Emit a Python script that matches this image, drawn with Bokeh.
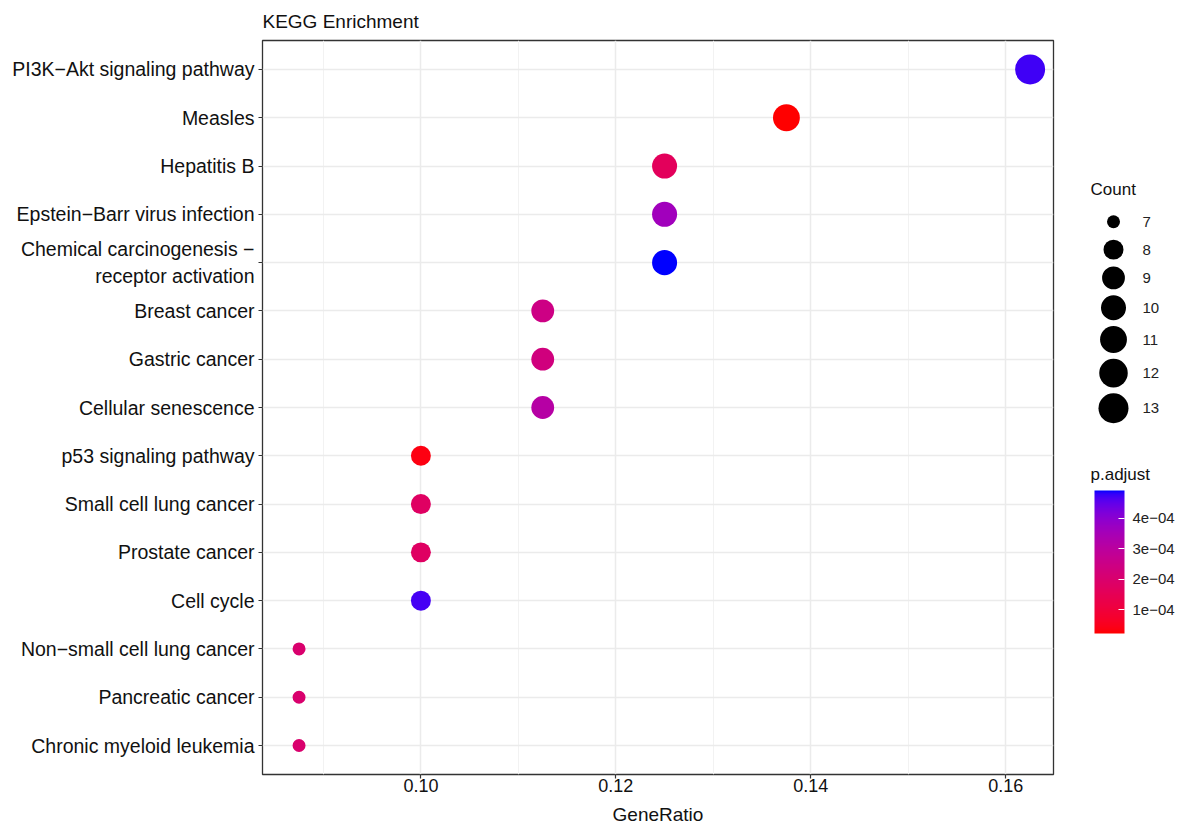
import numpy as np
from bokeh.plotting import figure
from bokeh.models import (ColumnDataSource, FactorRange, LinearColorMapper, ColorBar,
                          FixedTicker, NumeralTickFormatter, CustomJSTickFormatter, Range1d)
from bokeh.layouts import row
from bokeh.embed import file_html
from bokeh.resources import INLINE
from bokeh.core.properties import value

# ---------------- data ----------------
pathways = [
    "PI3K\u2212Akt signaling pathway",
    "Measles",
    "Hepatitis B",
    "Epstein\u2212Barr virus infection",
    "Chemical carcinogenesis \u2212\nreceptor activation",
    "Breast cancer",
    "Gastric cancer",
    "Cellular senescence",
    "p53 signaling pathway",
    "Small cell lung cancer",
    "Prostate cancer",
    "Cell cycle",
    "Non\u2212small cell lung cancer",
    "Pancreatic cancer",
    "Chronic myeloid leukemia",
]
gene_ratio = [0.1625, 0.1375, 0.125, 0.125, 0.125, 0.1125, 0.1125, 0.1125,
              0.100, 0.100, 0.100, 0.100, 0.0875, 0.0875, 0.0875]
count = [13, 11, 10, 10, 10, 9, 9, 9, 8, 8, 8, 8, 7, 7, 7]
p_adjust = [4.75e-4, 2.1e-5, 1.62e-4, 3.60e-4, 4.92e-4, 2.47e-4, 2.33e-4, 3.13e-4,
            3.5e-5, 1.76e-4, 1.76e-4, 4.70e-4, 2.0e-4, 2.0e-4, 2.0e-4]

x_ticks = [0.10, 0.12, 0.14, 0.16]
x_minor = [0.09, 0.11, 0.13, 0.15]
legend_counts = [7, 8, 9, 10, 11, 12, 13]
cb_ticks = [1e-4, 2e-4, 3e-4, 4e-4]

FONT = "Liberation Sans"

# ---------------- palette (Lab interpolation red -> blue, like ggplot) ----------------
def _srgb_to_lin(c):
    return np.where(c <= 0.04045, c / 12.92, ((c + 0.055) / 1.055) ** 2.4)

def _lin_to_srgb(c):
    c = np.clip(c, 0, 1)
    return np.where(c <= 0.0031308, 12.92 * c, 1.055 * c ** (1 / 2.4) - 0.055)

M = np.array([[0.4124564, 0.3575761, 0.1804375],
              [0.2126729, 0.7151522, 0.0721750],
              [0.0193339, 0.1191920, 0.9503041]])
WHITE = np.array([0.95047, 1.0, 1.08883])

def _f(t):
    d = 6 / 29
    return np.where(t > d ** 3, np.cbrt(t), t / (3 * d * d) + 4 / 29)

def _finv(t):
    d = 6 / 29
    return np.where(t > d, t ** 3, 3 * d * d * (t - 4 / 29))

def rgb_to_lab(rgb):
    xyz = M @ _srgb_to_lin(np.asarray(rgb, float)) / WHITE
    fx, fy, fz = _f(xyz)
    return np.array([116 * fy - 16, 500 * (fx - fy), 200 * (fy - fz)])

def lab_to_hex(lab):
    L, a, b = lab
    fy = (L + 16) / 116
    xyz = np.array([_finv(fy + a / 500), _finv(fy), _finv(fy - b / 200)]) * WHITE
    rgb = _lin_to_srgb(np.linalg.solve(M, xyz))
    r, g, bb = (np.round(rgb * 255)).astype(int)
    return "#%02x%02x%02x" % (r, g, bb)

lab_lo = rgb_to_lab([1, 0, 0])
lab_hi = rgb_to_lab([0, 0, 1])
palette = [lab_to_hex(lab_lo + (lab_hi - lab_lo) * t) for t in np.linspace(0, 1, 256)]

mapper = LinearColorMapper(palette=palette, low=min(p_adjust), high=max(p_adjust))

cmin, cmax = min(count), max(count)
def size_of(c):
    return 13 + 17 * np.sqrt((c - cmin) / (cmax - cmin))

src = ColumnDataSource(dict(
    pathway=pathways, ratio=gene_ratio, count=count, padj=p_adjust,
    size=[size_of(c) for c in count],
))

# ---------------- main figure ----------------
W, H = 1070, 827
FRAME_TOP, FRAME_BOTTOM = 40, 777
p = figure(width=W, height=H, output_backend="svg", toolbar_location=None,
           y_range=FactorRange(factors=pathways[::-1], range_padding=0.1,
                               range_padding_units="absolute"),
           x_range=Range1d(0.08375, 0.1649),
           min_border_left=262, min_border_right=17, min_border_top=FRAME_TOP,
           min_border_bottom=H - FRAME_BOTTOM)

p.scatter("ratio", "pathway", size="size", source=src,
          fill_color={"field": "padj", "transform": mapper}, line_color=None)

p.title.text = "KEGG Enrichment"
p.title.text_font = FONT
p.title.text_font_size = "19px"
p.title.text_font_style = "normal"
p.title.text_color = "#111111"
p.title.align = "left"
p.title.offset = 0
p.title.standoff = 17

p.outline_line_color = "#333333"
p.outline_line_width = 1.3
p.background_fill_color = "white"
p.border_fill_color = "white"

p.xaxis.ticker = FixedTicker(ticks=x_ticks, minor_ticks=x_minor)
p.xaxis.formatter = NumeralTickFormatter(format="0.00")
p.xaxis.axis_label = "GeneRatio"
p.xaxis.axis_label_text_font = FONT
p.xaxis.axis_label_text_font_size = "19px"
p.xaxis.axis_label_text_font_style = "normal"
p.xaxis.axis_label_text_color = "#111111"
p.xaxis.axis_label_standoff = 9
p.xaxis.minor_tick_line_color = None

for ax in (p.xaxis[0], p.yaxis[0]):
    ax.axis_line_color = None
    ax.major_tick_line_color = "#333333"
    ax.major_tick_line_width = 1.2
    ax.major_tick_out = 4
    ax.major_tick_in = 0
    ax.major_label_text_font = FONT
    ax.major_label_text_color = "#111111"

p.yaxis.major_label_text_font_size = "19.5px"
p.yaxis.major_label_standoff = 4
p.xaxis.major_label_text_font_size = "18px"
p.xaxis.major_label_standoff = 0

p.xgrid.grid_line_color = "#EBEBEB"
p.xgrid.grid_line_width = 1.5
p.xgrid.minor_grid_line_color = "#F2F2F2"
p.xgrid.minor_grid_line_width = 1.0
p.ygrid.grid_line_color = "#EBEBEB"
p.ygrid.grid_line_width = 1.5

# ---------------- legend figure (its frame is aligned with the main frame by the row) ----------------
LW = 112
q = figure(width=LW, height=H, output_backend="svg", toolbar_location=None,
           x_range=Range1d(0, LW), y_range=Range1d(FRAME_BOTTOM, FRAME_TOP),
           x_axis_location=None, y_axis_location=None,
           min_border_left=0, min_border_right=0, min_border_top=FRAME_TOP,
           min_border_bottom=H - FRAME_BOTTOM)
q.grid.visible = False
q.outline_line_color = None

# Count legend
diam = [size_of(c) for c in legend_counts]
keys = [max(28.0, d + 6) for d in diam]
ys = [222.0]
for i in range(1, len(legend_counts)):
    ys.append(ys[-1] + (keys[i - 1] + keys[i]) / 2)
leg = ColumnDataSource(dict(x=[43] * len(legend_counts), y=ys, size=diam,
                            lx=[72] * len(legend_counts),
                            label=[str(c) for c in legend_counts]))
q.text(x=[20, 20], y=[190, 476], text=["Count", "p.adjust"], text_font=value(FONT),
       text_font_size="17px", text_baseline="middle", text_color="#111111")
q.scatter("x", "y", size="size", source=leg, fill_color="black", line_color=None)
q.text("lx", "y", text="label", source=leg, text_font=value(FONT), text_font_size="15px",
       text_baseline="middle", text_color="#222222")

cb = ColorBar(color_mapper=mapper, ticker=FixedTicker(ticks=cb_ticks),
              formatter=CustomJSTickFormatter(code="return (tick*1e4).toFixed(0) + 'e\u221204';"),
              orientation="vertical",
              width=30, height=143, location=(24, FRAME_BOTTOM - 636), padding=0,
              major_label_text_font=FONT, major_label_text_font_size="15px",
              major_label_text_color="#222222", label_standoff=8,
              major_tick_line_color="white", major_tick_line_width=1.2,
              major_tick_in=6, major_tick_out=0,
              bar_line_color=None, border_line_color=None, background_fill_alpha=0)
q.add_layout(cb, "center")

layout = row(p, q)
open("out.html", "w").write(file_html(layout, INLINE))
